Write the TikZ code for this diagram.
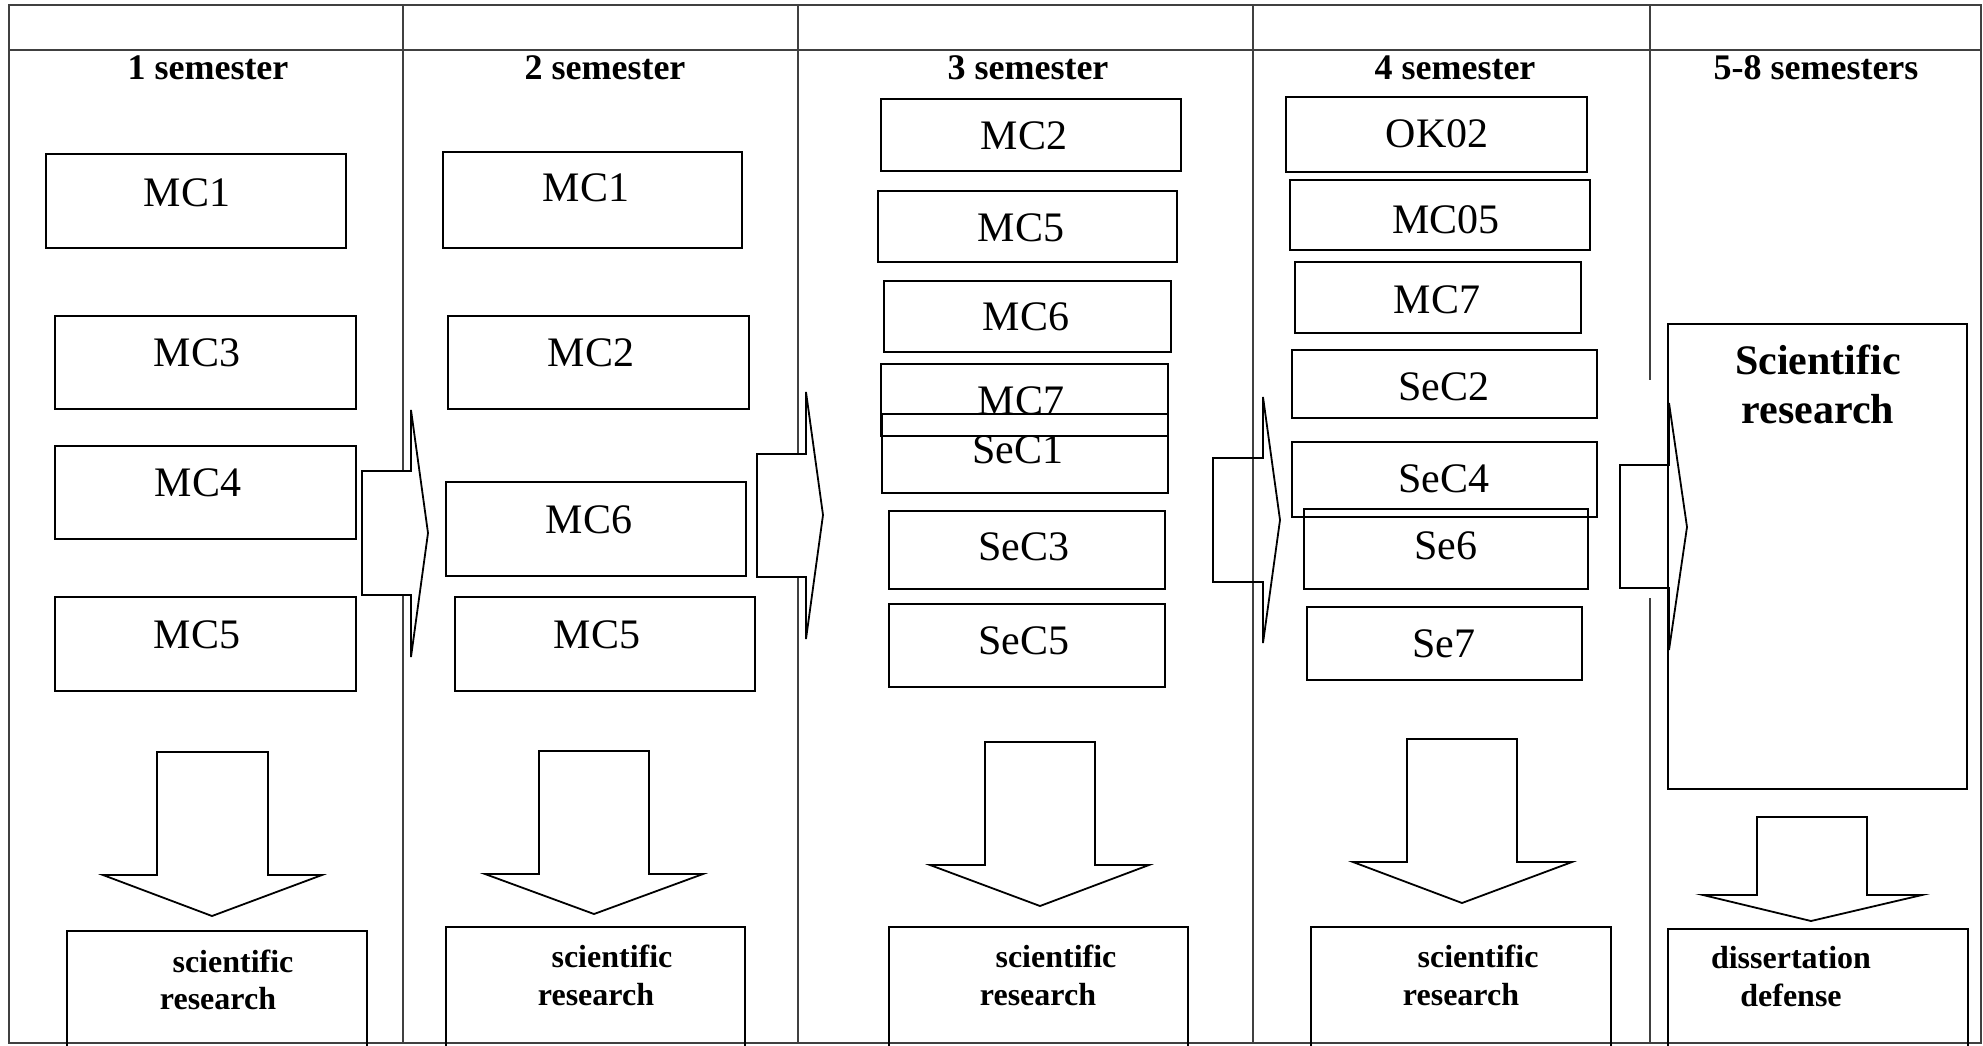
\documentclass[tikz,border=0pt]{standalone}
\usepackage{fontspec}
\setmainfont{Liberation Serif}
\usetikzlibrary{fit}
\begin{document}
\begin{tikzpicture}[x=1pt,y=-1pt,
  tbl/.style={draw=black!75, line width=1.3pt},
  box/.style={draw, line width=1.8pt, inner sep=0pt},
  lbl/.style={font=\fontsize{42}{48}\selectfont, inner sep=0pt, anchor=base},
  hdr/.style={font=\fontsize{36}{40}\selectfont\bfseries, inner sep=0pt, anchor=base},
  btx/.style={font=\fontsize{32}{36}\selectfont\bfseries, inner sep=0pt, anchor=base},
  big/.style={font=\fontsize{42}{48}\selectfont\bfseries, inner sep=0pt, anchor=base},
  barrow/.style={draw, line width=1.8pt, line join=miter},
  warrow/.style={barrow, fill=white}
]
\useasboundingbox (0,0) rectangle (1983,1045);

% table
\draw[tbl] (9,5) rectangle (1981,1043);
\draw[tbl] (9,50) -- (1981,50);
\draw[tbl] (403,5) -- (403,1043);
\draw[tbl] (798,5) -- (798,1043);
\draw[tbl] (1253,5) -- (1253,1043);
\draw[tbl] (1650,5) -- (1650,380);
\draw[tbl] (1650,598) -- (1650,1043);

% headers
\node[hdr] (h1) at (208,79) {1 semester};
\node[hdr] (h2) at (605,79) {2 semester};
\node[hdr] (h3) at (1028,79) {3 semester};
\node[hdr] (h4) at (1455,79) {4 semester};
\node[hdr] (h5) at (1816,79) {5-8 semesters};

% right block arrows
\draw[warrow] (362,471) -- (411,471) -- (411,410) -- (428,533) -- (411,657) -- (411,595) -- (362,595) -- cycle;
\draw[warrow] (757,454) -- (806,454) -- (806,392) -- (823,515) -- (806,639) -- (806,577) -- (757,577) -- cycle;
\draw[barrow] (1213,458) -- (1263,458) -- (1263,397) -- (1280,520) -- (1263,643) -- (1263,582) -- (1213,582) -- cycle;
\draw[warrow] (1620,465) -- (1669,465) -- (1669,403) -- (1687,527) -- (1669,650) -- (1669,588) -- (1620,588) -- cycle;

% column 1
\node[box, fit={(46,154) (346,248)}] (a1) {};
\node[lbl] (a1t) at (187,206) {MC1};
\node[box, fit={(55,316) (356,409)}] (a2) {};
\node[lbl] (a2t) at (197,366) {MC3};
\node[box, fit={(55,446) (356,539)}] (a3) {};
\node[lbl] (a3t) at (198,496) {MC4};
\node[box, fit={(55,597) (356,691)}] (a4) {};
\node[lbl] (a4t) at (197,648) {MC5};

% column 2
\node[box, fit={(443,152) (742,248)}] (b1) {};
\node[lbl] (b1t) at (586,201) {MC1};
\node[box, fit={(448,316) (749,409)}] (b2) {};
\node[lbl] (b2t) at (591,366) {MC2};
\node[box, fit={(446,482) (746,576)}] (b3) {};
\node[lbl] (b3t) at (589,533) {MC6};
\node[box, fit={(455,597) (755,691)}] (b4) {};
\node[lbl] (b4t) at (597,648) {MC5};

% column 3
\node[box, fit={(881,99) (1181,171)}] (c1) {};
\node[lbl] (c1t) at (1024,149) {MC2};
\node[box, fit={(878,191) (1177,262)}] (c2) {};
\node[lbl] (c2t) at (1021,241) {MC5};
\node[box, fit={(884,281) (1171,352)}] (c3) {};
\node[lbl] (c3t) at (1026,330) {MC6};
\node[box, fit={(881,364) (1168,436)}] (c4) {};
\node[lbl] (c4t) at (1021,414) {MC7};
\node[box, fit={(882,414) (1168,493)}] (c5) {};
\node[lbl] (c5t) at (1018,463) {SeC1};
\node[box, fit={(889,511) (1165,589)}] (c6) {};
\node[lbl] (c6t) at (1024,560) {SeC3};
\node[box, fit={(889,604) (1165,687)}] (c7) {};
\node[lbl] (c7t) at (1024,654) {SeC5};

% column 4
\node[box, fit={(1286,97) (1587,172)}] (d1) {};
\node[lbl] (d1t) at (1437,147) {OK02};
\node[box, fit={(1290,180) (1590,250)}] (d2) {};
\node[lbl] (d2t) at (1446,233) {MC05};
\node[box, fit={(1295,262) (1581,333)}] (d3) {};
\node[lbl] (d3t) at (1437,313) {MC7};
\node[box, fit={(1292,350) (1597,418)}] (d4) {};
\node[lbl] (d4t) at (1444,400) {SeC2};
\node[box, fit={(1292,442) (1597,517)}] (d5) {};
\node[lbl] (d5t) at (1444,492) {SeC4};
\node[box, fit={(1304,509) (1588,589)}] (d6) {};
\node[lbl] (d6t) at (1446,559) {Se6};
\node[box, fit={(1307,607) (1582,680)}] (d7) {};
\node[lbl] (d7t) at (1444,657) {Se7};

% column 5
\node[box, fit={(1668,324) (1967,789)}] (e1) {};
\node[big] (e1t) at (1818,374) {Scientific};
\node[big] (e1u) at (1818,423) {research};

% down block arrows
\draw[barrow] (157,752) -- (268,752) -- (268,875) -- (322,875) -- (212,916) -- (103,875) -- (157,875) -- cycle;
\draw[barrow] (539,751) -- (649,751) -- (649,874) -- (703,874) -- (594,914) -- (485,874) -- (539,874) -- cycle;
\draw[barrow] (985,742) -- (1095,742) -- (1095,865) -- (1149,865) -- (1040,906) -- (930,865) -- (985,865) -- cycle;
\draw[barrow] (1407,739) -- (1517,739) -- (1517,862) -- (1572,862) -- (1462,903) -- (1353,862) -- (1407,862) -- cycle;
\draw[barrow] (1757,817) -- (1867,817) -- (1867,895) -- (1922,895) -- (1811,921) -- (1703,895) -- (1757,895) -- cycle;

% bottom boxes (run past the page bottom)
\node[box, fit={(67,931) (367,1070)}] (f1) {};
\node[btx] (f1t) at (233,972) {scientific};
\node[btx] (f1u) at (218,1009) {research};
\node[box, fit={(446,927) (745,1070)}] (f2) {};
\node[btx] (f2t) at (612,967) {scientific};
\node[btx] (f2u) at (596,1005) {research};
\node[box, fit={(889,927) (1188,1070)}] (f3) {};
\node[btx] (f3t) at (1056,967) {scientific};
\node[btx] (f3u) at (1038,1005) {research};
\node[box, fit={(1311,927) (1611,1070)}] (f4) {};
\node[btx] (f4t) at (1478,967) {scientific};
\node[btx] (f4u) at (1461,1005) {research};
\node[box, fit={(1668,929) (1968,1070)}] (f5) {};
\node[btx] (f5t) at (1791,968) {dissertation};
\node[btx] (f5u) at (1791,1006) {defense};
\end{tikzpicture}
\end{document}
